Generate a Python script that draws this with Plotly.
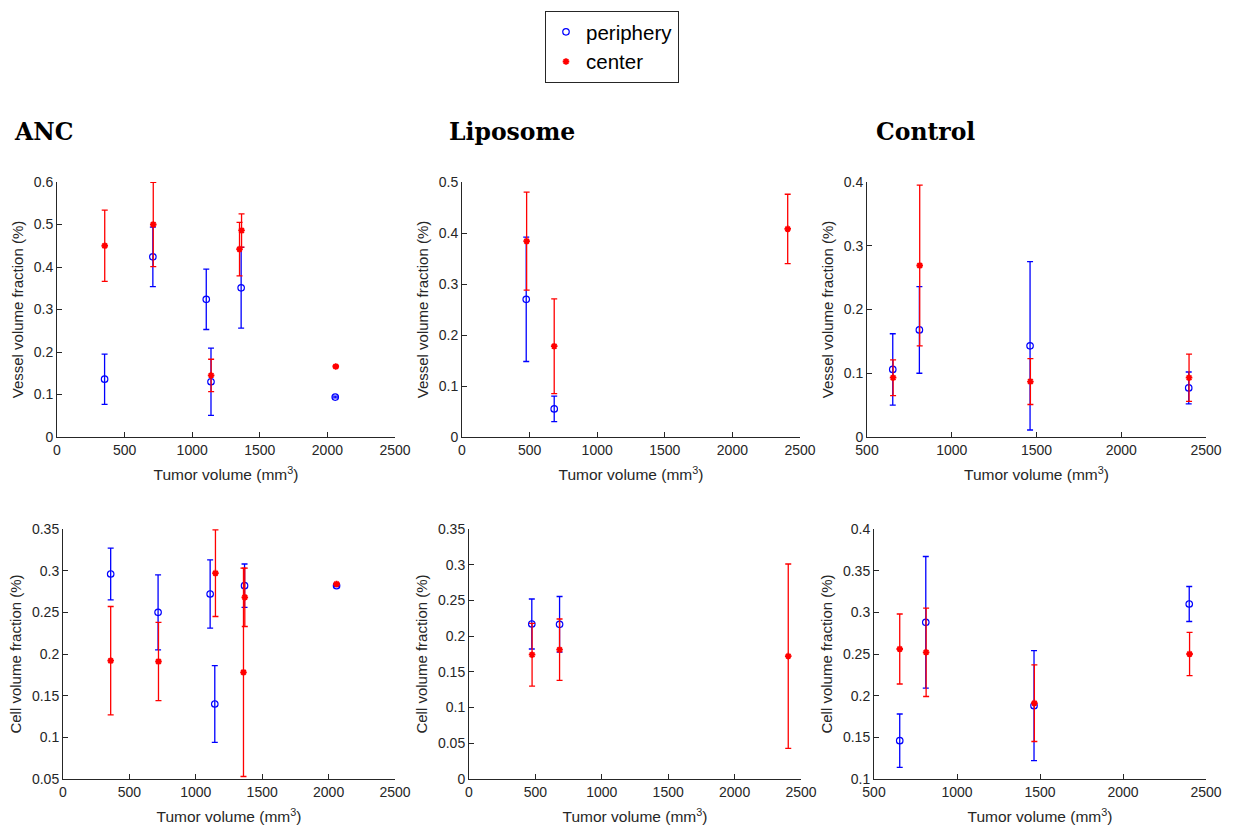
import plotly.graph_objects as go

W, H = 1233, 830

# ---------------- data ----------------
# ANC - vessel
anc_v_per_x = [352, 709, 1104, 1139, 1362, 2058]
anc_v_per_y = [0.136, 0.424, 0.324, 0.130, 0.351, 0.094]
anc_v_per_e = [0.059, 0.070, 0.071, 0.079, 0.095, 0.002]
anc_v_cen_x = [353, 712, 1140, 1350, 1365, 2062]
anc_v_cen_y = [0.450, 0.500, 0.145, 0.442, 0.486, 0.166]
anc_v_cen_e = [0.084, 0.099, 0.038, 0.063, 0.039, 0.002]
# Liposome - vessel
lip_v_per_x = [475, 682]
lip_v_per_y = [0.270, 0.055]
lip_v_per_e = [0.122, 0.025]
lip_v_cen_x = [478, 682, 2409]
lip_v_cen_y = [0.384, 0.178, 0.408]
lip_v_cen_e = [0.096, 0.093, 0.068]
# Control - vessel
con_v_per_x = [652, 809, 1462, 2398]
con_v_per_y = [0.106, 0.168, 0.143, 0.077]
con_v_per_e = [0.056, 0.068, 0.132, 0.025]
con_v_cen_x = [654, 811, 1464, 2400]
con_v_cen_y = [0.093, 0.269, 0.087, 0.093]
con_v_cen_e = [0.028, 0.126, 0.036, 0.037]
# ANC - cell
anc_c_per_x = [359, 716, 1108, 1143, 1367, 2060]
anc_c_per_y = [0.296, 0.250, 0.272, 0.140, 0.282, 0.282]
anc_c_per_e = [0.031, 0.045, 0.041, 0.046, 0.026, 0.001]
anc_c_cen_x = [359, 719, 1148, 1359, 1369, 2060]
anc_c_cen_y = [0.192, 0.191, 0.297, 0.178, 0.268, 0.284]
anc_c_cen_e = [0.065, 0.047, 0.052, 0.125, 0.035, 0.001]
# Liposome - cell
lip_c_per_x = [473, 682]
lip_c_per_y = [0.217, 0.2165]
lip_c_per_e = [0.035, 0.039]
lip_c_cen_x = [475, 682, 2404]
lip_c_cen_y = [0.174, 0.181, 0.172]
lip_c_cen_e = [0.044, 0.043, 0.129]
# Control - cell
con_c_per_x = [655, 812, 1464, 2399]
con_c_per_y = [0.146, 0.288, 0.188, 0.310]
con_c_per_e = [0.032, 0.079, 0.066, 0.021]
con_c_cen_x = [655, 814, 1466, 2401]
con_c_cen_y = [0.256, 0.252, 0.191, 0.250]
con_c_cen_e = [0.042, 0.053, 0.046, 0.026]

group_titles = ["ANC", "Liposome", "Control"]
series_names = ["periphery", "center"]
x_title = "Tumor volume (mm<sup>3</sup>)"
y_titles = ["Vessel volume fraction (%)", "Cell volume fraction (%)"]

x_ranges = [[0, 2500], [0, 2500], [500, 2500], [0, 2500], [0, 2500], [500, 2500]]
y_ranges = [[0, 0.6], [0, 0.5], [0, 0.4], [0.05, 0.35], [0, 0.35], [0.1, 0.4]]
y_dticks = [0.1, 0.1, 0.1, 0.05, 0.05, 0.05]

panels = [
    (anc_v_per_x, anc_v_per_y, anc_v_per_e, anc_v_cen_x, anc_v_cen_y, anc_v_cen_e),
    (lip_v_per_x, lip_v_per_y, lip_v_per_e, lip_v_cen_x, lip_v_cen_y, lip_v_cen_e),
    (con_v_per_x, con_v_per_y, con_v_per_e, con_v_cen_x, con_v_cen_y, con_v_cen_e),
    (anc_c_per_x, anc_c_per_y, anc_c_per_e, anc_c_cen_x, anc_c_cen_y, anc_c_cen_e),
    (lip_c_per_x, lip_c_per_y, lip_c_per_e, lip_c_cen_x, lip_c_cen_y, lip_c_cen_e),
    (con_c_per_x, con_c_per_y, con_c_per_e, con_c_cen_x, con_c_cen_y, con_c_cen_e),
]

# pixel boxes of each plot area (left, right, top, bottom)
boxes = [
    (57, 395, 182, 437), (462, 800, 182, 437), (867, 1206, 182, 437),
    (63, 395, 529, 779), (469, 801, 529, 779), (874, 1206, 529, 779),
]

BLUE = "rgb(0,0,255)"
RED = "rgb(255,0,0)"
AX = "#262626"

fig = go.Figure()

for i, (px, py, pe, cx, cy, ce) in enumerate(panels):
    n = "" if i == 0 else str(i + 1)
    xa, ya = "x" + n, "y" + n
    fig.add_trace(go.Scatter(
        x=px, y=py, mode="markers", name=series_names[0], xaxis=xa, yaxis=ya,
        showlegend=(i == 0), legendgroup="p",
        marker=dict(symbol="circle-open", size=6.5, color=BLUE, line=dict(width=1.2, color=BLUE)),
        error_y=dict(type="data", array=pe, visible=True, color=BLUE, thickness=1.3, width=3),
    ))
    fig.add_trace(go.Scatter(
        x=cx, y=cy, mode="markers", name=series_names[1], xaxis=xa, yaxis=ya,
        showlegend=(i == 0), legendgroup="c",
        marker=dict(symbol="asterisk-open", size=5.5, color=RED, line=dict(width=1.8, color=RED)),
        error_y=dict(type="data", array=ce, visible=True, color=RED, thickness=1.3, width=3),
    ))

layout = dict(
    width=W, height=H,
    margin=dict(l=0, r=0, t=0, b=0, autoexpand=False),
    paper_bgcolor="white", plot_bgcolor="white",
    font=dict(family="Liberation Sans, Arial, sans-serif", size=14, color=AX),
    showlegend=True,
    legend=dict(
        x=545 / W, xanchor="left", y=1 - 11 / H, yanchor="top",
        bordercolor="#262626", borderwidth=1, bgcolor="white",
        font=dict(size=20.5, color="black"), tracegroupgap=0, itemwidth=30,
    ),
)

for i in range(6):
    n = "" if i == 0 else str(i + 1)
    l, r, t, b = boxes[i]
    layout["xaxis" + n] = dict(
        domain=[l / W, r / W], anchor="y" + n, range=x_ranges[i], automargin=False,
        dtick=500, tick0=0, ticks="inside", ticklen=5, tickcolor=AX,
        showline=True, linecolor=AX, linewidth=1, showgrid=False, zeroline=False,
        tickfont=dict(size=14, color=AX), exponentformat="none", separatethousands=False,
        title=dict(text=x_title, font=dict(size=15.5, color=AX), standoff=12),
    )
    layout["yaxis" + n] = dict(
        domain=[1 - b / H, 1 - t / H], anchor="x" + n, range=y_ranges[i], automargin=False,
        dtick=y_dticks[i], tick0=0, ticks="inside", ticklen=5, tickcolor=AX,
        showline=True, linecolor=AX, linewidth=1, showgrid=False, zeroline=False,
        tickfont=dict(size=14, color=AX),
        title=dict(text=y_titles[i // 3], font=dict(size=15, color=AX), standoff=6),
    )

fig.update_layout(**layout)

title_x = [12, 447, 874]
for k, txt in enumerate(group_titles):
    fig.add_annotation(
        x=title_x[k] / W, y=1 - 132 / H, xref="paper", yref="paper",
        xanchor="left", yanchor="middle", showarrow=False,
        text="<b>" + txt + "</b>",
        font=dict(family="DejaVu Serif, serif", size=23.5, color="black"),
    )

fig.write_html(
    "out.html",
    config={"displayModeBar": False},
    post_script="document.body.style.margin='0';document.body.style.overflow='hidden';",
)
